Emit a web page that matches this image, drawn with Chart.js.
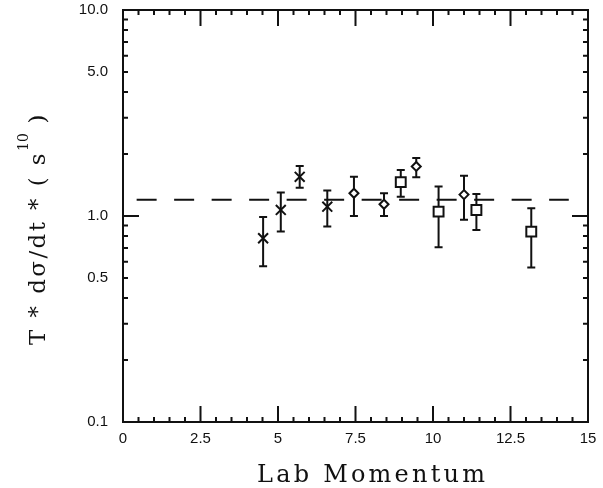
<!DOCTYPE html>
<html>
<head>
<meta charset="UTF-8">
<title>Lab Momentum</title>
<script src="https://cdn.jsdelivr.net/npm/chart.js@4/dist/chart.umd.min.js"></script>
<style>
html, body { margin: 0; padding: 0; background: #fff; }
#wrap { width: 603px; height: 488px; }
</style>
</head>
<body>
<div id="wrap"><canvas id="canvas"></canvas></div>
<script>
// tick labels
var xTicks = [0, 2.5, 5, 7.5, 10, 12.5, 15];
var yTicks = [0.1, 0.5, 1.0, 5.0, 10.0];

// crosses
var crossX  = [4.52, 5.09, 5.70, 6.59];
var crossY  = [0.78, 1.07, 1.55, 1.11];
var crossHi = [0.99, 1.30, 1.75, 1.33];
var crossLo = [0.57, 0.84, 1.37, 0.89];

// diamonds
var diamondX  = [7.45, 8.42, 9.46, 11.0];
var diamondY  = [1.29, 1.14, 1.74, 1.27];
var diamondHi = [1.55, 1.29, 1.91, 1.57];
var diamondLo = [1.00, 1.00, 1.54, 0.96];

// squares
var squareX  = [8.96, 10.18, 11.40, 13.17];
var squareY  = [1.46, 1.05, 1.07, 0.84];
var squareHi = [1.67, 1.39, 1.28, 1.09];
var squareLo = [1.24, 0.705, 0.855, 0.563];

// dashed fit line
var fitX = [0.44, 14.38];
var fitY = [1.2, 1.2];

function pts(xs, ys) {
  return xs.map(function(x, i) { return {x: x, y: ys[i]}; });
}

var ink = '#111';

// error bars, frame, inward ticks, axis titles
var decor = {
  id: 'decor',
  beforeDatasetsDraw: function(chart) {
    var ctx = chart.ctx, xs = chart.scales.x, ys = chart.scales.y;
    ctx.save();
    ctx.strokeStyle = ink;
    ctx.lineWidth = 2;
    chart.data.datasets.forEach(function(ds) {
      if (!ds.errLo) return;
      ds.data.forEach(function(p, i) {
        var px = xs.getPixelForValue(p.x);
        var top = ys.getPixelForValue(ds.errHi[i]);
        var bot = ys.getPixelForValue(ds.errLo[i]);
        ctx.beginPath();
        ctx.moveTo(px, top); ctx.lineTo(px, bot);
        ctx.moveTo(px - 4, top); ctx.lineTo(px + 4, top);
        ctx.moveTo(px - 4, bot); ctx.lineTo(px + 4, bot);
        ctx.stroke();
      });
    });
    ctx.restore();
  },
  afterDraw: function(chart) {
    var ctx = chart.ctx, a = chart.chartArea;
    var xs = chart.scales.x, ys = chart.scales.y;
    ctx.save();
    ctx.strokeStyle = ink;
    ctx.lineWidth = 2;
    ctx.strokeRect(a.left, a.top, a.right - a.left, a.bottom - a.top);

    ctx.beginPath();
    // x ticks, every 0.5, long at each 2.5
    for (var k = 1; k < 30; k++) {
      var px = xs.getPixelForValue(k * 0.5);
      var len = (k % 5 === 0) ? 16 : 5;
      ctx.moveTo(px, a.bottom); ctx.lineTo(px, a.bottom - len);
      ctx.moveTo(px, a.top); ctx.lineTo(px, a.top + len);
    }
    // y ticks, log
    [0.1, 1].forEach(function(dec) {
      for (var m = 1; m <= 9; m++) {
        var v = m * dec;
        if (v <= 0.1) continue;
        var py = ys.getPixelForValue(v);
        var l = (m === 1) ? 16 : 5;
        ctx.moveTo(a.left, py); ctx.lineTo(a.left + l, py);
        ctx.moveTo(a.right, py); ctx.lineTo(a.right - l, py);
      }
    });
    ctx.stroke();

    // axis titles
    ctx.fillStyle = ink;
    ctx.textBaseline = 'alphabetic';
    ctx.textAlign = 'left';

    var xt = 'Lab Momentum';
    ctx.font = '24px "DejaVu Serif"';
    ctx.letterSpacing = '0px';
    var w0 = ctx.measureText(xt).width;
    var sp = (228 - w0) / (xt.length - 1);
    ctx.letterSpacing = sp + 'px';
    ctx.fillText(xt, 257, 482);

    var segs = [
      {t: 'T * d\u03c3/dt * ( s', f: '23px "DejaVu Serif"', dy: 0, ls: true},
      {t: '10', f: '14px "DejaVu Serif"', dy: -17, ls: false},
      {t: ' )', f: '23px "DejaVu Serif"', dy: 0, ls: true}
    ];
    ctx.letterSpacing = '0px';
    var tot = 0, n = 0;
    segs.forEach(function(s) {
      ctx.font = s.f;
      tot += ctx.measureText(s.t).width;
      if (s.ls) n += s.t.length;
    });
    var ls = (233 - tot) / n;
    ctx.translate(45, 345);
    ctx.rotate(-Math.PI / 2);
    var cx = 0;
    segs.forEach(function(s) {
      ctx.font = s.f;
      ctx.letterSpacing = s.ls ? ls + 'px' : '0px';
      ctx.fillText(s.t, cx, s.dy);
      cx += ctx.measureText(s.t).width;
    });
    ctx.restore();
  }
};

var tickFont = {family: '"Liberation Sans", Arial, sans-serif', size: 15};

new Chart(document.getElementById('canvas'), {
  type: 'scatter',
  data: {
    datasets: [
      {
        label: 'fit',
        data: pts(fitX, fitY),
        showLine: true,
        borderColor: ink,
        borderWidth: 2,
        borderDash: [20, 17.5],
        pointRadius: 0,
        fill: false
      },
      {
        label: 'x',
        data: pts(crossX, crossY),
        errHi: crossHi, errLo: crossLo,
        pointStyle: 'crossRot',
        pointRadius: 7,
        borderWidth: 2,
        borderColor: ink
      },
      {
        label: 'diamond',
        data: pts(diamondX, diamondY),
        errHi: diamondHi, errLo: diamondLo,
        pointStyle: 'rectRot',
        pointRadius: 4.5,
        borderWidth: 2,
        borderColor: ink,
        backgroundColor: '#fff'
      },
      {
        label: 'square',
        data: pts(squareX, squareY),
        errHi: squareHi, errLo: squareLo,
        pointStyle: 'rect',
        pointRadius: 7,
        borderWidth: 2,
        borderColor: ink,
        backgroundColor: '#fff'
      }
    ]
  },
  options: {
    responsive: true,
    maintainAspectRatio: false,
    animation: false,
    layout: { padding: { left: 0, right: 15, top: 10, bottom: 0 } },
    plugins: { legend: { display: false }, tooltip: { enabled: false } },
    scales: {
      x: {
        type: 'linear',
        min: 0, max: 15,
        grid: { display: false, drawTicks: false },
        border: { display: false },
        afterBuildTicks: function(s) { s.ticks = xTicks.map(function(v) { return {value: v}; }); },
        afterFit: function(s) { s.height = 66; s.paddingLeft = 0; s.paddingRight = 0; },
        ticks: { color: ink, font: tickFont, padding: 8, maxRotation: 0,
                 callback: function(v) { return String(v); } }
      },
      y: {
        type: 'logarithmic',
        min: 0.1, max: 10,
        grid: { display: false, drawTicks: false },
        border: { display: false },
        afterBuildTicks: function(s) { s.ticks = yTicks.map(function(v) { return {value: v}; }); },
        afterFit: function(s) { s.width = 123; s.paddingTop = 0; s.paddingBottom = 0; },
        ticks: { color: ink, font: tickFont, padding: 15,
                 callback: function(v) { return Number(v).toFixed(1); } }
      }
    }
  },
  plugins: [decor]
});
</script>
</body>
</html>
